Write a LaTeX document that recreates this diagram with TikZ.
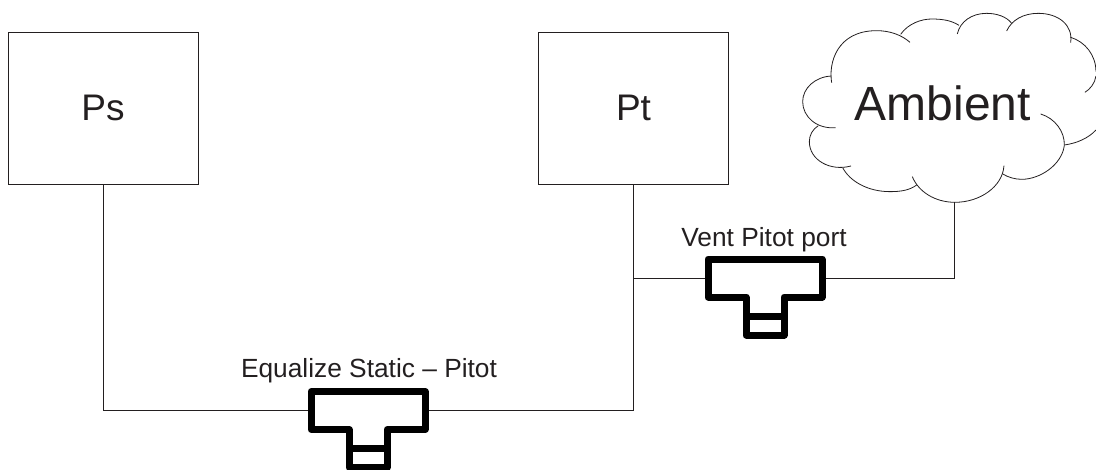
\documentclass[tikz,border=0pt]{standalone}
\usepackage{fontspec}
\setmainfont{Liberation Sans}
\definecolor{inkline}{HTML}{231F20}

\newcommand{\teevalve}[3]{
    \node (#1) [tee node] at (#2,#3) {};
    \draw[tee line,shift={(#1.center)}] (-38,-19) -- (-57,-19) -- (-57,19) -- (-19,19) -- (-19,57) -- (19,57) -- (19,19) -- (57,19) -- (57,-19) -- cycle;
    \draw[tee line,shift={(#1.center)}] (-19,38) -- (19,38);
}

\begin{document}
\begin{tikzpicture}[x=1pt,y=-1pt,-,line width=0.9pt,draw=inkline,text=inkline,
    main node/.style={draw,rectangle,minimum width=190pt,minimum height=152pt,inner sep=0pt,font=\fontsize{37}{37}\selectfont},
    tee node/.style={rectangle,minimum width=121pt,minimum height=45pt,inner sep=0pt,outer sep=0pt},
    tee line/.style={line width=7pt,line join=round,draw=black},
    label node/.style={anchor=base,inner sep=0pt,font=\fontsize{26.3}{26.3}\selectfont},
    cloud line/.style={line width=0.8pt}]

    \useasboundingbox (0,0) rectangle (1096,469);

    \node (ps) [main node] at (103,108) {Ps};
    \node (pt) [main node] at (633.5,108) {Pt};

    \teevalve{equalize}{368}{410.5}
    \teevalve{vent}{765}{278}

    \node (equalizelabel) [label node] at (369,377) {Equalize Static – Pitot};
    \node (ventlabel) [label node] at (764,246) {Vent Pitot port};
    \node (ambient) [label node,font=\fontsize{48}{48}\selectfont] at (943,120) {Ambient};

    % cloud, traced lobe by lobe
    \begin{scope}[shift={(780,0)},x=0.3333pt,y=-0.3333pt,cloud line]
        \draw (155,248) .. controls (145,190) and (170,92) .. (290,92) .. controls (330,92) and (365,105) .. (390,127);
        \draw (362,103) .. controls (385,70) and (425,57) .. (455,57) .. controls (490,57) and (515,62) .. (537,76);
        \draw (532,102) .. controls (540,65) and (575,40) .. (620,40) .. controls (650,40) and (680,50) .. (695,70);
        \draw (680,93) .. controls (695,60) and (730,40) .. (775,40) .. controls (835,40) and (880,75) .. (872,128);
        \draw (872,112) .. controls (915,125) and (948,165) .. (948,215);
        \draw (948,228) .. controls (945,250) and (930,268) .. (915,277);
        \draw (782,342) .. controls (825,355) and (855,395) .. (853,437) .. controls (845,495) and (780,538) .. (725,538) .. controls (705,538) and (685,532) .. (668,522);
        \draw (853,435) .. controls (890,430) and (925,415) .. (948,390);
        \draw (672,497) .. controls (668,560) and (600,607) .. (525,607) .. controls (465,607) and (415,575) .. (397,530);
        \draw (410,555) .. controls (390,570) and (365,575) .. (330,575) .. controls (265,575) and (210,545) .. (188,503);
        \draw (213,498) .. controls (150,515) and (88,480) .. (88,425) .. controls (88,405) and (98,388) .. (115,377);
        \draw (167,383) .. controls (110,388) and (68,350) .. (68,305) .. controls (68,265) and (105,230) .. (155,228);
        \coordinate (cloudfoot) at (522,607);
    \end{scope}

    \path[draw]
        (ps.south) |- (equalize.west)
        (equalize.east) -| (pt.south)
        (vent.east) -| (cloudfoot);
    \coordinate (branch) at (pt.south |- vent.west);
    \draw (branch) -- (vent.west);
\end{tikzpicture}
\end{document}
